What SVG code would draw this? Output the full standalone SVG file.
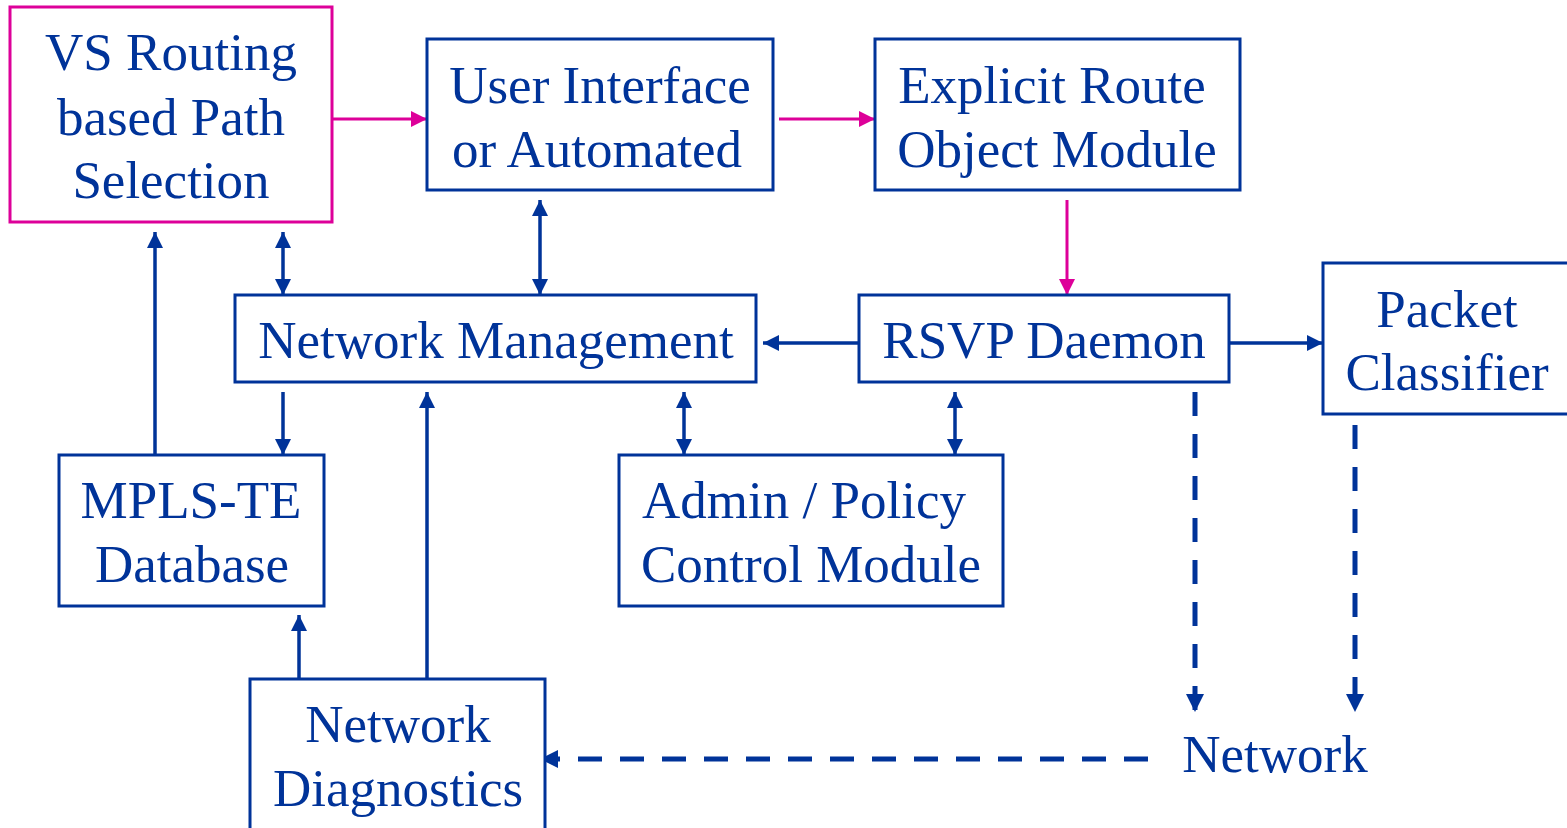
<svg xmlns="http://www.w3.org/2000/svg" width="1567" height="828" viewBox="0 0 1567 828">
<defs>
<style>
.box{fill:#fff;stroke:#003399;stroke-width:3}
.pbox{fill:#fff;stroke:#dd0099;stroke-width:3}
text{font-family:"Liberation Serif","Times New Roman",serif;font-size:53px;fill:#003399;text-anchor:middle}
.c{stroke:#003399;stroke-width:3.5;fill:none}
.p{stroke:#dd0099;stroke-width:3;fill:none}
.d{stroke:#003399;stroke-width:5;fill:none;stroke-dasharray:24 18}
</style>
<marker id="ab" markerUnits="userSpaceOnUse" markerWidth="16" markerHeight="16" refX="16" refY="8" orient="auto-start-reverse"><path d="M0,0 L16,8 L0,16 z" fill="#003399"/></marker>
<marker id="ap" markerUnits="userSpaceOnUse" markerWidth="16" markerHeight="16" refX="16" refY="8" orient="auto-start-reverse"><path d="M0,0 L16,8 L0,16 z" fill="#dd0099"/></marker>
<marker id="ad" markerUnits="userSpaceOnUse" markerWidth="18" markerHeight="18" refX="18" refY="9" orient="auto-start-reverse"><path d="M0,0 L18,9 L0,18 z" fill="#003399"/></marker>
</defs>
<g id="connectors">
<line class="p" x1="332" y1="119" x2="427" y2="119" marker-end="url(#ap)"/>
<line class="p" x1="779" y1="119" x2="875" y2="119" marker-end="url(#ap)"/>
<line class="p" x1="1067" y1="200" x2="1067" y2="295" marker-end="url(#ap)"/>
<line class="c" x1="859" y1="343" x2="763" y2="343" marker-end="url(#ab)"/>
<line class="c" x1="1229" y1="343" x2="1323" y2="343" marker-end="url(#ab)"/>
<line class="c" x1="540" y1="200" x2="540" y2="295" marker-start="url(#ab)" marker-end="url(#ab)"/>
<line class="c" x1="283" y1="232" x2="283" y2="295" marker-start="url(#ab)" marker-end="url(#ab)"/>
<line class="c" x1="283" y1="392" x2="283" y2="455" marker-end="url(#ab)"/>
<line class="c" x1="155" y1="455" x2="155" y2="232" marker-end="url(#ab)"/>
<line class="c" x1="684" y1="392" x2="684" y2="455" marker-start="url(#ab)" marker-end="url(#ab)"/>
<line class="c" x1="955" y1="392" x2="955" y2="455" marker-start="url(#ab)" marker-end="url(#ab)"/>
<line class="c" x1="299" y1="679" x2="299" y2="615" marker-end="url(#ab)"/>
<line class="c" x1="427" y1="679" x2="427" y2="392" marker-end="url(#ab)"/>
<line class="d" x1="1195" y1="392" x2="1195" y2="712" marker-end="url(#ad)"/>
<line class="d" x1="1355" y1="425" x2="1355" y2="712" marker-end="url(#ad)"/>
<line class="d" x1="1148" y1="759" x2="540" y2="759" marker-end="url(#ad)"/>
</g>
<g id="vs-routing"><rect class="pbox" x="10" y="7" width="322" height="215"/><text x="171" y="70">VS Routing</text><text x="171" y="135">based Path</text><text x="171" y="198">Selection</text></g>
<g id="user-interface"><rect class="box" x="427" y="39" width="346" height="151"/><text x="600" y="103">User Interface</text><text x="597" y="167">or Automated</text></g>
<g id="explicit-route"><rect class="box" x="875" y="39" width="365" height="151"/><text x="1052" y="103">Explicit Route</text><text x="1057" y="167">Object Module</text></g>
<g id="network-management"><rect class="box" x="235" y="295" width="521" height="87"/><text x="496" y="358">Network Management</text></g>
<g id="rsvp-daemon"><rect class="box" x="859" y="295" width="370" height="87"/><text x="1044" y="358">RSVP Daemon</text></g>
<g id="packet-classifier"><rect class="box" x="1323" y="263" width="250" height="151"/><text x="1447" y="327">Packet</text><text x="1447" y="390">Classifier</text></g>
<g id="mpls-te"><rect class="box" x="59" y="455" width="265" height="151"/><text x="191" y="518">MPLS-TE</text><text x="192" y="582">Database</text></g>
<g id="admin-policy"><rect class="box" x="619" y="455" width="384" height="151"/><text x="804" y="518">Admin / Policy</text><text x="811" y="582">Control Module</text></g>
<g id="network-diagnostics"><rect class="box" x="250" y="679" width="295" height="160"/><text x="398" y="742">Network</text><text x="398" y="806">Diagnostics</text></g>
<g id="network"><text x="1275" y="772">Network</text></g>
</svg>
